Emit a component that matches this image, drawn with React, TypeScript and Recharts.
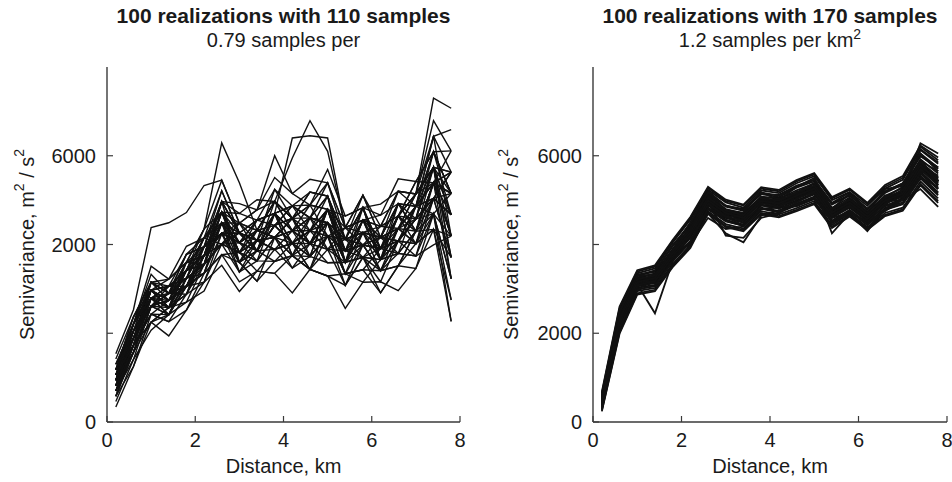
import { LineChart, Line, XAxis, YAxis } from 'recharts';

// Lag distances (km) shared by every realization
const DISTANCE_KM = [0.2, 0.6, 1.0, 1.4, 1.8, 2.2, 2.6, 3.0, 3.4, 3.8, 4.2, 4.6, 5.0, 5.4, 5.8, 6.2, 6.6, 7.0, 7.4, 7.8];

const X_TICKS = [0, 2, 4, 6, 8];
const Y_TICKS = [0, 2000, 4000, 6000];
const LEFT_Y_LABELS = ['0', '', '2000', '6000'];
const RIGHT_Y_LABELS = ['0', '2000', '', '6000'];

// 110 samples — semivariance per realization
const LEFT_REALIZATIONS = [
  [1180, 2370, 2970, 3060, 3240, 3950, 5210, 4260, 4550, 5240, 4870, 4600, 5090, 4120, 4270, 4160, 4920, 4860, 6090, 6110],
  [700, 1730, 2430, 2260, 2880, 3550, 4010, 3380, 3860, 3890, 3470, 3730, 4190, 3340, 3430, 3410, 4080, 4020, 4340, 3710],
  [940, 2050, 2790, 2580, 3420, 3750, 4250, 4040, 4320, 4430, 4030, 4310, 4790, 3600, 4270, 4160, 4360, 4300, 5390, 5150],
  [1420, 2370, 3150, 3220, 3960, 4150, 4730, 4700, 4550, 4700, 4310, 4890, 5390, 4120, 4830, 3910, 4640, 5140, 5740, 4670],
  [460, 1410, 2070, 2420, 2700, 2950, 3770, 3600, 3170, 3620, 3750, 3440, 3290, 3340, 3430, 2910, 3520, 4020, 4340, 2750],
  [1060, 1730, 3150, 2740, 3420, 3550, 4490, 4480, 3860, 4700, 4870, 4310, 4190, 4120, 4830, 3660, 4360, 4860, 5040, 5630],
  [820, 1890, 2610, 2900, 2880, 3750, 4730, 3820, 4090, 3890, 4030, 4600, 4490, 3600, 3710, 3910, 4640, 4580, 5040, 4670],
  [1300, 2210, 3510, 3220, 3600, 4350, 5450, 4480, 4780, 6000, 5150, 4890, 4790, 4640, 4830, 4660, 5480, 5420, 6090, 5150],
  [580, 1570, 2610, 2420, 3060, 3150, 4010, 3820, 3400, 3890, 4030, 3440, 3890, 3080, 3990, 3410, 3520, 4300, 4690, 3230],
  [940, 2210, 2970, 2580, 3240, 4150, 4730, 3820, 4090, 5240, 4590, 4310, 4790, 3860, 3990, 4160, 5200, 5140, 7300, 7070],
  [1180, 1890, 2610, 2900, 3600, 3750, 4010, 4260, 4090, 4160, 4590, 4020, 3890, 3860, 4550, 3660, 4080, 4580, 4690, 2750],
  [820, 1570, 2790, 2580, 2880, 3950, 4250, 3600, 4090, 4160, 3750, 4020, 4490, 3340, 3990, 3910, 3800, 4300, 5390, 4190],
  [1060, 2210, 3330, 2900, 3600, 4350, 6290, 5390, 4320, 4970, 4590, 5180, 5090, 3860, 4550, 4410, 4640, 5420, 6090, 5150],
  [700, 1410, 2610, 2740, 3060, 3350, 4490, 3380, 3630, 4160, 4310, 3730, 3590, 3600, 3710, 3160, 4080, 4580, 5040, 3710],
  [940, 1890, 2970, 3060, 3420, 3750, 4970, 4260, 4090, 4700, 6400, 6450, 6400, 4380, 4550, 3910, 4640, 5140, 6440, 5630],
  [1300, 2050, 2790, 3060, 3780, 3950, 4970, 4700, 5010, 4970, 5950, 6790, 6100, 4380, 5110, 4160, 4360, 4860, 6440, 6590],
  [580, 1250, 2430, 2260, 2520, 3350, 3770, 3160, 3400, 3350, 3750, 3440, 3290, 3080, 3710, 2910, 3520, 3460, 4690, 3230],
  [1060, 1890, 3150, 2900, 3060, 3750, 4730, 4040, 3860, 4700, 4310, 4020, 4790, 3860, 3990, 3910, 4640, 4300, 5390, 4190],
  [820, 2050, 2790, 2420, 3240, 3950, 4250, 4260, 3860, 4430, 4590, 4020, 4490, 4120, 3990, 3910, 4080, 4860, 5740, 4670],
  [1180, 2370, 3150, 2900, 3780, 4150, 4730, 4040, 4550, 4700, 4870, 5180, 5090, 4120, 4270, 4410, 5200, 4860, 5390, 4190],
  [700, 1730, 2790, 2580, 2700, 3550, 4010, 4040, 3860, 3620, 3750, 4310, 4190, 3080, 3710, 3660, 3800, 3740, 5040, 4670],
  [940, 1730, 2250, 2420, 3240, 3550, 4490, 4260, 4090, 4160, 4310, 4600, 4490, 3600, 4270, 4160, 4080, 4580, 5740, 3710],
  [1060, 2210, 2970, 2740, 3420, 4150, 5210, 4260, 4550, 4430, 4870, 4600, 5390, 4380, 4550, 4660, 4920, 4860, 6090, 5150],
  [820, 1570, 2610, 2420, 3060, 3750, 4250, 3600, 3860, 4430, 4030, 3730, 4190, 3860, 3990, 3410, 4080, 4580, 5040, 3710],
  [1540, 2530, 4380, 4490, 4720, 5330, 5450, 4480, 4780, 5510, 5150, 5470, 5390, 4380, 5110, 4410, 5200, 5140, 5740, 5630],
  [340, 1250, 2250, 1940, 2520, 3150, 3530, 2940, 3400, 3350, 2910, 3440, 3290, 2560, 3150, 3160, 2960, 3460, 4340, 2270],
  [940, 2050, 2610, 2740, 3420, 3550, 4490, 4260, 3860, 4430, 4590, 4020, 4490, 4120, 3990, 3910, 4640, 4300, 5390, 5150],
  [1180, 2050, 2790, 2580, 3420, 4150, 4490, 3820, 4320, 4970, 4310, 4020, 4790, 4380, 4270, 3660, 4640, 5140, 5390, 6110],
  [580, 1570, 2250, 2580, 2880, 3150, 4250, 3600, 3170, 4160, 3750, 3440, 4190, 3340, 3150, 3660, 3800, 3740, 4690, 2270],
  [1060, 1730, 2970, 3220, 3600, 3750, 4970, 4920, 4780, 4970, 4590, 4890, 5690, 4640, 4830, 4910, 5200, 5140, 6790, 6110],
  [1060, 1890, 2610, 2740, 3600, 3950, 4490, 3600, 4320, 4970, 4310, 4600, 4190, 4380, 4550, 3660, 4920, 4580, 5740, 3710],
  [820, 2050, 3150, 2900, 3240, 3550, 4970, 4260, 3860, 4430, 4870, 4600, 4490, 3600, 4550, 4410, 4360, 4020, 5040, 5150],
  [940, 1570, 2610, 2900, 3060, 3350, 4250, 4040, 3630, 4700, 4030, 3730, 4790, 3860, 3710, 3660, 4360, 4860, 4690, 4190],
  [1180, 2210, 2970, 2740, 3060, 3950, 4970, 4260, 4090, 4700, 4870, 4890, 4790, 3600, 4270, 4160, 4920, 4860, 5390, 4670],
  [700, 1890, 2970, 2580, 3420, 3750, 4010, 3820, 4320, 4160, 4030, 4310, 3890, 4120, 4270, 3660, 4080, 4020, 5390, 5150],
  [1300, 2210, 2790, 2900, 3420, 4350, 4730, 4480, 4320, 4430, 4590, 5180, 5090, 4120, 5110, 4160, 4360, 5140, 5740, 5630],
  [580, 1730, 2430, 2740, 3060, 3350, 3770, 3820, 3630, 3620, 4030, 4020, 3590, 3600, 3710, 3410, 3520, 4300, 4340, 4190],
  [1060, 2050, 2790, 3060, 3240, 3550, 4730, 3820, 4550, 4700, 4030, 4310, 5090, 3600, 4550, 4160, 4080, 4580, 6090, 4670],
  [940, 1730, 2970, 2580, 3060, 3950, 4250, 4480, 4090, 3890, 4310, 4020, 4190, 4120, 3990, 3910, 4920, 4300, 5040, 5630],
  [820, 1730, 2430, 2420, 3240, 3350, 4490, 3820, 3630, 4160, 3470, 4020, 3890, 3600, 3990, 3410, 3800, 4300, 5390, 3230],
  [1180, 1890, 2970, 2740, 3420, 3950, 4250, 4040, 4320, 4970, 4590, 4020, 4790, 3860, 4830, 3910, 4080, 4860, 6440, 4190],
  [940, 2050, 2610, 3060, 3060, 3750, 4970, 3600, 4090, 4160, 4590, 4890, 4190, 3860, 3990, 4410, 4640, 4020, 5040, 4670],
  [700, 1570, 2790, 2420, 3060, 3550, 4730, 3600, 3860, 4700, 3750, 3730, 4190, 3340, 4270, 3410, 4360, 4020, 4690, 5150],
  [1060, 2210, 3150, 2900, 3780, 3950, 4250, 4260, 3860, 4700, 4310, 4600, 4490, 4120, 4830, 3660, 4640, 5420, 5390, 5630],
  [820, 1890, 2790, 2740, 3060, 3750, 4490, 4040, 4320, 4160, 4310, 4310, 4490, 3860, 4270, 3910, 4360, 4580, 5740, 4190],
  [940, 1890, 2610, 2580, 3420, 3550, 4730, 4260, 3860, 4430, 4030, 4310, 4790, 3600, 4550, 4160, 4080, 4860, 5040, 4670],
  [1180, 2050, 3150, 3060, 3420, 4150, 4010, 4480, 4320, 4160, 4590, 4600, 3890, 4380, 3990, 4160, 4920, 4300, 5740, 3230],
  [700, 1730, 2250, 2580, 2880, 3750, 4250, 3380, 4090, 3890, 4030, 3440, 4490, 3340, 3430, 3910, 4080, 3740, 3990, 4190],
  [1060, 1730, 2790, 2900, 3240, 4150, 4490, 4040, 4550, 4700, 3750, 4600, 5090, 3600, 4830, 3660, 4360, 5140, 5740, 5150],
  [940, 2210, 2790, 2580, 3600, 3550, 4010, 4260, 3860, 4970, 4590, 3730, 4790, 4120, 3710, 4160, 3800, 4860, 5390, 5630],
];

// 170 samples — semivariance per realization
const RIGHT_REALIZATIONS = [
  [610, 2530, 3350, 3460, 4040, 4560, 5230, 4950, 4830, 5220, 5160, 5380, 5540, 5000, 5180, 4870, 5260, 5460, 6130, 5820],
  [290, 2060, 2950, 3020, 3560, 3990, 4750, 4460, 4360, 4750, 4680, 4820, 4980, 4440, 4700, 4390, 4710, 4830, 5420, 5040],
  [500, 2380, 3230, 3350, 3870, 4400, 5120, 4760, 4700, 5060, 5050, 5170, 5390, 4810, 5010, 4740, 5060, 5300, 5880, 5650],
  [400, 2200, 3080, 3150, 3730, 4150, 4900, 4620, 4500, 4890, 4850, 4990, 5150, 4610, 4860, 4530, 4870, 5030, 5650, 5270],
  [450, 2300, 3100, 2450, 3620, 4200, 4930, 4560, 4420, 4880, 4850, 5040, 5200, 4650, 4880, 4560, 4950, 5090, 5720, 5380],
  [560, 2450, 3290, 3400, 3960, 4450, 5150, 4850, 4760, 5140, 5070, 5280, 5420, 4900, 5100, 4780, 5160, 5350, 6000, 5700],
  [350, 2140, 3030, 3090, 3660, 4080, 4830, 4550, 4450, 4830, 4760, 4920, 5080, 4540, 4780, 4480, 4820, 4950, 5550, 5180],
  [460, 2320, 3190, 3260, 3830, 4250, 4700, 4250, 4050, 4650, 4760, 4980, 5160, 4620, 4860, 4560, 4930, 5120, 5740, 5420],
  [480, 2270, 3160, 3290, 3790, 4310, 5030, 4750, 4640, 5040, 4970, 5120, 5300, 4250, 4700, 4300, 4800, 5060, 5700, 5330],
  [430, 2310, 3170, 3230, 3830, 4230, 4980, 4680, 4580, 4970, 4930, 5130, 5250, 4740, 4960, 4640, 5010, 5220, 6280, 6050],
  [410, 2260, 3130, 3260, 3790, 4260, 4960, 4720, 4610, 4960, 4890, 5080, 5240, 4700, 4920, 4610, 4970, 5000, 5250, 4850],
  [470, 2330, 3180, 3200, 3820, 4300, 5020, 4690, 4590, 5020, 4930, 5110, 5280, 4750, 4950, 4620, 5010, 5170, 5800, 5480],
  [540, 2430, 3320, 3380, 3990, 4430, 5200, 4870, 4800, 5130, 5120, 5330, 5450, 4940, 5170, 4800, 5200, 5380, 5990, 5740],
  [330, 2110, 2990, 3060, 3620, 4050, 4790, 4530, 4420, 4810, 4720, 4880, 5040, 4500, 4740, 4430, 4780, 4910, 5490, 5110],
  [470, 2290, 3160, 3230, 3800, 4000, 4600, 4350, 4400, 4800, 4850, 5050, 5250, 4700, 4920, 4620, 5000, 5150, 5780, 5420],
  [440, 2300, 3140, 3250, 3810, 4280, 5000, 4710, 4600, 5000, 4930, 5110, 5260, 4720, 4940, 4630, 4990, 5150, 6150, 5850],
  [650, 2560, 3390, 3500, 4080, 4590, 5270, 4980, 4880, 5260, 5200, 5420, 5580, 5040, 5230, 4910, 5300, 5500, 6200, 5900],
  [260, 2020, 2900, 2980, 3520, 3950, 4720, 4420, 4330, 4710, 4640, 4780, 4940, 4400, 4660, 4360, 4670, 4790, 5360, 4980],
  [450, 2290, 3150, 3240, 3800, 4270, 4990, 4700, 4600, 4990, 4920, 5100, 5260, 4720, 4940, 4630, 4990, 5150, 5780, 5440],
  [420, 2240, 3110, 3190, 3760, 4240, 4950, 4660, 4570, 4950, 4890, 5070, 5230, 4690, 4910, 4600, 4960, 5120, 5740, 5400],
  [480, 2340, 3210, 3290, 3850, 4310, 5030, 4740, 4640, 5030, 4960, 5140, 5300, 4760, 4980, 4670, 5030, 5190, 5830, 5500],
  [460, 2310, 3170, 3270, 3830, 4290, 5010, 4720, 4630, 4990, 4940, 5120, 5270, 4480, 4700, 4350, 4800, 5000, 5600, 5250],
  [430, 2270, 3130, 3220, 3780, 4250, 4970, 4690, 4590, 4980, 4910, 5090, 5250, 4710, 4930, 4620, 4980, 5140, 5770, 5430],
  [520, 2390, 3260, 3340, 3900, 4380, 5100, 4800, 4700, 5080, 5030, 5220, 5370, 4830, 5060, 4740, 5100, 5270, 5920, 5600],
  [380, 2190, 3060, 3130, 3700, 4150, 4880, 4600, 4490, 4880, 4810, 4970, 5130, 4600, 4830, 4520, 4860, 5010, 5610, 5250],
  [450, 2300, 3160, 3240, 3800, 4270, 4990, 4200, 4150, 4600, 4700, 4950, 5150, 4680, 4900, 4600, 4950, 5120, 5760, 5440],
  [600, 2480, 3300, 3320, 3880, 4500, 5180, 4770, 4720, 5180, 5000, 5300, 5500, 4800, 5150, 4700, 5250, 5320, 6050, 5650],
  [300, 2100, 3000, 3180, 3700, 4060, 4820, 4620, 4430, 4790, 4840, 4860, 5020, 4600, 4720, 4520, 4750, 5020, 5500, 5300],
  [680, 2600, 3420, 3530, 4100, 4620, 5300, 5010, 4900, 5290, 5230, 5450, 5610, 5070, 5260, 4940, 5340, 5540, 6230, 5960],
  [240, 1990, 2870, 2950, 3490, 3920, 4690, 4390, 4300, 4680, 4610, 4750, 4910, 4370, 4630, 4330, 4640, 4760, 5330, 4940],
  [520, 2250, 3250, 3180, 3880, 4220, 5080, 4680, 4720, 4950, 5040, 5080, 5380, 4700, 5050, 4600, 5100, 5120, 5900, 5420],
  [390, 2330, 3050, 3300, 3700, 4330, 4900, 4760, 4480, 5050, 4800, 5160, 5150, 4780, 4830, 4690, 4880, 5240, 5650, 5520],
  [470, 2200, 3190, 3150, 3850, 4180, 5040, 4610, 4670, 4900, 5000, 5010, 5330, 4630, 5010, 4550, 5060, 5060, 5850, 5340],
  [430, 2380, 3110, 3330, 3750, 4360, 4940, 4790, 4530, 5080, 4840, 5190, 5190, 4810, 4870, 4710, 4920, 5250, 5710, 5560],
  [580, 2470, 3300, 3420, 3970, 4480, 5170, 4880, 4780, 5170, 5100, 5300, 5460, 4920, 5120, 4810, 5190, 5380, 6050, 5730],
  [320, 2120, 2990, 3070, 3630, 4060, 4810, 4520, 4420, 4810, 4740, 4900, 5060, 4520, 4760, 4450, 4790, 4920, 5510, 5150],
  [460, 2280, 3160, 3230, 3810, 4260, 4980, 4710, 4590, 4990, 4930, 5090, 5270, 4710, 4950, 4620, 5000, 5140, 5790, 5430],
  [500, 2350, 3220, 3300, 3860, 4330, 5060, 4770, 4660, 5050, 4990, 5170, 5330, 4790, 5010, 4690, 5060, 5220, 5860, 5530],
  [400, 2230, 3080, 3180, 3740, 4210, 4920, 4630, 4540, 4930, 4850, 5030, 5190, 4650, 4870, 4570, 4920, 5080, 5700, 5350],
  [450, 2300, 3150, 3250, 3800, 4270, 4990, 4710, 4600, 4980, 4920, 5100, 5260, 4720, 4940, 4630, 4990, 5150, 5780, 5440],
];

const FONT = '"Liberation Sans", Arial, Helvetica, sans-serif';
const AXIS = '#3a3a3a';
const TEXT = '#1a1a1a';
const LINE = '#111111';
const TICK_FONT = 20;

const CHART_W = 476;
const CHART_H = 482;
const PLOT_TOP = 67;
const PLOT_BOTTOM_GAP = 60; // x axis + margin

function toRows(realizations: number[][]) {
  return DISTANCE_KM.map((d, i) => {
    const row: Record<string, number> = { d };
    realizations.forEach((r, k) => {
      row[`r${k}`] = r[i];
    });
    return row;
  });
}

function YTick(props: any) {
  const { x, y, payload, labels } = props;
  const i = Y_TICKS.indexOf(payload.value);
  const label = i >= 0 ? labels[i] : '';
  return (
    <g>
      <line x1={x + 11} x2={x + 17} y1={y} y2={y} stroke={AXIS} strokeWidth={1.2} />
      <text x={x} y={y} dy={7} textAnchor="end" fontSize={TICK_FONT} fontFamily={FONT} fill={TEXT}>
        {label}
      </text>
    </g>
  );
}

function XTick(props: any) {
  const { x, y, payload } = props;
  return (
    <g>
      <line x1={x} x2={x} y1={y - 6} y2={y - 12} stroke={AXIS} strokeWidth={1.2} />
      <text x={x} y={y} dy={19} textAnchor="middle" fontSize={TICK_FONT} fontFamily={FONT} fill={TEXT}>
        {payload.value}
      </text>
    </g>
  );
}

function YLabel(props: any) {
  const { viewBox, cx } = props;
  const cy = viewBox ? viewBox.y + viewBox.height / 2 : 245;
  return (
    <text
      x={cx}
      y={cy}
      transform={`rotate(-90 ${cx} ${cy})`}
      textAnchor="middle"
      dominantBaseline="central"
      fontSize={TICK_FONT}
      fontFamily={FONT}
      fill={TEXT}
    >
      Semivariance, m
      <tspan dy={-8} fontSize={14}>2</tspan>
      <tspan dy={8}> / s</tspan>
      <tspan dy={-8} fontSize={14}>2</tspan>
    </text>
  );
}

function XLabel(props: any) {
  const { viewBox } = props;
  const cx = viewBox.x + viewBox.width / 2;
  return (
    <text x={cx} y={viewBox.y + 51} textAnchor="middle" fontSize={TICK_FONT} fontFamily={FONT} fill={TEXT}>
      Distance, km
    </text>
  );
}

interface PanelProps {
  left: number;
  title: string;
  subtitle: React.ReactNode;
  realizations: number[][];
  yLabels: string[];
  marginLeft: number;
  marginRight: number;
  labelX: number;
  lineWidth: number;
}

function Panel({ left, title, subtitle, realizations, yLabels, marginLeft, marginRight, labelX, lineWidth }: PanelProps) {
  const rows = toRows(realizations);
  const yAxisWidth = 70;
  const plotLeft = marginLeft + yAxisWidth;
  const plotWidth = CHART_W - plotLeft - marginRight;

  return (
    <div style={{ position: 'absolute', left, top: 0, width: CHART_W, height: CHART_H }}>
      <div
        style={{
          position: 'absolute',
          left: plotLeft - 40,
          width: plotWidth + 80,
          top: 4,
          textAlign: 'center',
          fontSize: 21,
          fontWeight: 'bold',
          lineHeight: '24px',
          color: TEXT,
          whiteSpace: 'nowrap',
        }}
      >
        {title}
      </div>
      <div
        style={{
          position: 'absolute',
          left: plotLeft - 40,
          width: plotWidth + 80,
          top: 28,
          textAlign: 'center',
          fontSize: 20,
          lineHeight: '24px',
          color: TEXT,
          whiteSpace: 'nowrap',
        }}
      >
        {subtitle}
      </div>
      <LineChart
        width={CHART_W}
        height={CHART_H}
        data={rows}
        margin={{ top: PLOT_TOP, right: marginRight, bottom: PLOT_BOTTOM_GAP - 50, left: marginLeft }}
      >
        <XAxis
          dataKey="d"
          type="number"
          domain={[0, 8]}
          ticks={X_TICKS}
          height={50}
          tickSize={0}
          tickMargin={6}
          tickLine={false}
          axisLine={{ stroke: AXIS, strokeWidth: 1.4 }}
          tick={(p: any) => <XTick {...p} />}
          label={<XLabel />}
          allowDataOverflow
        />
        <XAxis
          xAxisId="top"
          orientation="top"
          type="number"
          domain={[0, 8]}
          height={0}
          tick={false}
          tickLine={false}
          axisLine={{ stroke: AXIS, strokeWidth: 1.4 }}
          allowDataOverflow
        />
        <YAxis
          type="number"
          domain={[0, 8000]}
          ticks={Y_TICKS}
          width={yAxisWidth}
          tickSize={0}
          tickMargin={11}
          tickLine={false}
          axisLine={{ stroke: AXIS, strokeWidth: 1.4 }}
          tick={(p: any) => <YTick {...p} labels={yLabels} />}
          label={<YLabel cx={labelX} />}
          allowDataOverflow
        />
        <YAxis
          yAxisId="right"
          orientation="right"
          type="number"
          domain={[0, 8000]}
          width={0}
          tick={false}
          tickLine={false}
          axisLine={{ stroke: AXIS, strokeWidth: 1.4 }}
          allowDataOverflow
        />
        {realizations.map((_, k) => (
          <Line
            key={k}
            dataKey={`r${k}`}
            type="linear"
            stroke={LINE}
            strokeWidth={lineWidth}
            dot={false}
            activeDot={false}
            isAnimationActive={false}
          />
        ))}
      </LineChart>
    </div>
  );
}

export default function App() {
  return (
    <div
      style={{
        position: 'absolute',
        left: 0,
        top: 0,
        width: 952,
        height: 482,
        background: '#fff',
        fontFamily: FONT,
        overflow: 'hidden',
      }}
    >
      <Panel
        left={0}
        title="100 realizations with 110 samples"
        subtitle="0.79 samples per"
        realizations={LEFT_REALIZATIONS}
        yLabels={LEFT_Y_LABELS}
        marginLeft={37}
        marginRight={16}
        labelX={27}
        lineWidth={1.4}
      />
      <Panel
        left={476}
        title="100 realizations with 170 samples"
        subtitle={
          <span>
            1.2 samples per km<sup style={{ fontSize: 14, lineHeight: 0 }}>2</sup>
          </span>
        }
        realizations={RIGHT_REALIZATIONS}
        yLabels={RIGHT_Y_LABELS}
        marginLeft={47}
        marginRight={5}
        labelX={35}
        lineWidth={1.8}
      />
    </div>
  );
}
